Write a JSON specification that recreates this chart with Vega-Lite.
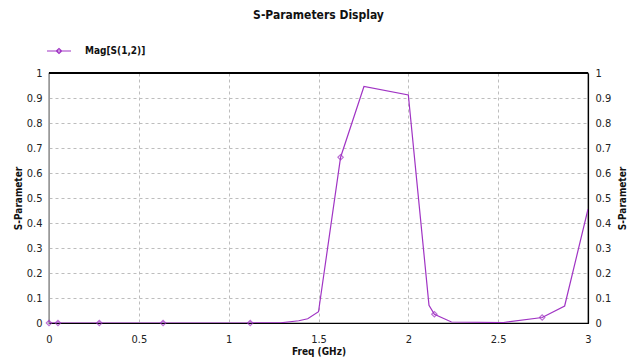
{
  "$schema": "https://vega.github.io/schema/vega-lite/v6.json",
  "width": 539,
  "height": 250,
  "autosize": "none",
  "padding": {"left": 49, "top": 73, "right": 40, "bottom": 37},
  "background": "white",
  "title": {
    "text": "S-Parameters Display",
    "font": "DejaVu Sans Condensed, Liberation Sans, Arial",
    "fontSize": 12,
    "fontWeight": "bold",
    "color": "#111111",
    "anchor": "middle",
    "offset": 16
  },
  "config": {
    "view": {"stroke": "black", "strokeWidth": 1.2},
    "font": "DejaVu Sans Condensed, Liberation Sans, Arial"
  },
  "data": {
    "values": [
      {"f": 0, "s": 0, "m": 1, "series": "Mag[S(1,2)]"},
      {"f": 0.05, "s": 0, "m": 1, "series": "Mag[S(1,2)]"},
      {"f": 0.28, "s": 0, "m": 1, "series": "Mag[S(1,2)]"},
      {"f": 0.635, "s": 0, "m": 1, "series": "Mag[S(1,2)]"},
      {"f": 1.12, "s": 0, "m": 1, "series": "Mag[S(1,2)]"},
      {"f": 1.29, "s": 0.001, "m": 0, "series": "Mag[S(1,2)]"},
      {"f": 1.39, "s": 0.009, "m": 0, "series": "Mag[S(1,2)]"},
      {"f": 1.44, "s": 0.017, "m": 0, "series": "Mag[S(1,2)]"},
      {"f": 1.5, "s": 0.045, "m": 0, "series": "Mag[S(1,2)]"},
      {"f": 1.623, "s": 0.663, "m": 1, "series": "Mag[S(1,2)]"},
      {"f": 1.753, "s": 0.946, "m": 0, "series": "Mag[S(1,2)]"},
      {"f": 2.0, "s": 0.912, "m": 0, "series": "Mag[S(1,2)]"},
      {"f": 2.115, "s": 0.071, "m": 0, "series": "Mag[S(1,2)]"},
      {"f": 2.145, "s": 0.035, "m": 1, "series": "Mag[S(1,2)]"},
      {"f": 2.24, "s": 0.004, "m": 0, "series": "Mag[S(1,2)]"},
      {"f": 2.53, "s": 0.002, "m": 0, "series": "Mag[S(1,2)]"},
      {"f": 2.745, "s": 0.022, "m": 1, "series": "Mag[S(1,2)]"},
      {"f": 2.87, "s": 0.068, "m": 0, "series": "Mag[S(1,2)]"},
      {"f": 3.0, "s": 0.455, "m": 0, "series": "Mag[S(1,2)]"}
    ]
  },
  "encoding": {
    "x": {
      "field": "f",
      "type": "quantitative",
      "scale": {"domain": [0, 3], "nice": false, "zero": false},
      "axis": {
        "title": "Freq (GHz)",
        "values": [0, 0.5, 1, 1.5, 2, 2.5, 3],
        "format": "~g",
        "labelFont": "DejaVu Sans Condensed, Liberation Sans, Arial",
        "labelFontSize": 11,
        "labelColor": "#222222",
        "labelPadding": 10,
        "ticks": false,
        "domain": true,
        "domainColor": "black",
        "domainWidth": 1.2,
        "grid": true,
        "gridColor": "#bdbdbd",
        "gridDash": [3, 3],
        "titleFont": "DejaVu Sans Condensed, Liberation Sans, Arial",
        "titleFontSize": 10,
        "titleFontWeight": "bold",
        "titleColor": "#111111",
        "titlePadding": 2,
        "labelFlush": false
      }
    }
  },
  "layer": [
    {
      "mark": {"type": "line", "strokeWidth": 1.2, "clip": true},
      "encoding": {
        "y": {
          "field": "s",
          "type": "quantitative",
          "scale": {"domain": [0, 1], "nice": false},
          "axis": {
            "title": "S-Parameter",
            "orient": "left",
            "values": [0, 0.1, 0.2, 0.3, 0.4, 0.5, 0.6, 0.7, 0.8, 0.9, 1],
            "format": "~g",
            "labelFont": "DejaVu Sans Condensed, Liberation Sans, Arial",
            "labelFontSize": 11,
            "labelColor": "#222222",
            "labelPadding": 7,
            "ticks": false,
            "domainColor": "#999999",
            "grid": true,
            "gridColor": "#bdbdbd",
            "gridDash": [3, 3],
            "titleFont": "DejaVu Sans Condensed, Liberation Sans, Arial",
            "titleFontSize": 10,
            "titleFontWeight": "bold",
            "titleColor": "#111111",
            "titlePadding": 3,
            "labelFlush": false
          }
        },
        "color": {
          "field": "series",
          "type": "nominal",
          "scale": {"range": ["#a034c4"]},
          "legend": {
            "title": null,
            "orient": "none",
            "legendX": -3,
            "legendY": -35,
            "symbolType": "M-1,0L1,0M-0.22,0L0,-0.2L0.22,0L0,0.2Z",
            "symbolSize": 576,
            "symbolStrokeWidth": 1.2,
            "symbolFillColor": "white",
            "labelFont": "DejaVu Sans Condensed, Liberation Sans, Arial",
            "labelFontSize": 10,
            "labelFontWeight": "bold",
            "labelColor": "#111111",
            "labelOffset": 13
          }
        }
      }
    },
    {
      "transform": [{"filter": "datum.m == 1"}],
      "mark": {"type": "point", "shape": "diamond", "filled": false, "size": 30, "strokeWidth": 1.1, "color": "#a034c4", "clip": false},
      "encoding": {
        "y": {
          "field": "s",
          "type": "quantitative",
          "scale": {"domain": [0, 1], "nice": false},
          "axis": {
            "title": "S-Parameter",
            "orient": "right",
            "values": [0, 0.1, 0.2, 0.3, 0.4, 0.5, 0.6, 0.7, 0.8, 0.9, 1],
            "format": "~g",
            "labelFont": "DejaVu Sans Condensed, Liberation Sans, Arial",
            "labelFontSize": 11,
            "labelColor": "#222222",
            "labelPadding": 7,
            "ticks": false,
            "domainColor": "black",
            "domainWidth": 1.2,
            "grid": false,
            "titleFont": "DejaVu Sans Condensed, Liberation Sans, Arial",
            "titleFontSize": 10,
            "titleFontWeight": "bold",
            "titleColor": "#111111",
            "titleAngle": 270,
            "titleX": 34,
            "titleY": 125,
            "titleAlign": "center",
            "titleBaseline": "middle",
            "labelFlush": false
          }
        }
      }
    },
    {
      "mark": {"type": "rule", "color": "black", "strokeWidth": 1.2},
      "encoding": {
        "y": {"datum": 1, "type": "quantitative", "axis": null},
        "x": {"datum": 0, "type": "quantitative"},
        "x2": {"datum": 3}
      }
    }
  ],
  "resolve": {"axis": {"y": "independent"}}
}
